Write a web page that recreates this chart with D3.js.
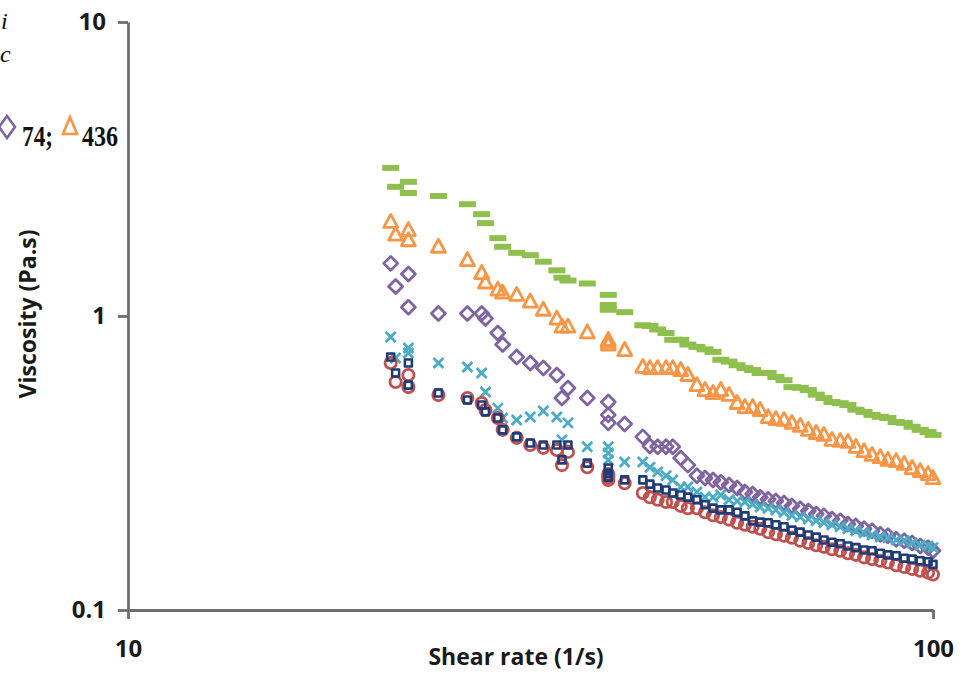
<!DOCTYPE html>
<html>
<head>
<meta charset="utf-8">
<script src="https://cdn.jsdelivr.net/npm/d3@7"></script>
<style>
  body { margin: 0; background: #fff; }
  svg { display: block; }
  .tick text, .axis-title { font-family: "Open Sans", sans-serif; font-weight: 700; fill: #1a1a1a; }
</style>
</head>
<body>
<svg id="chart" width="968" height="675"></svg>
<script>
// shear rate (1/s), shared by every sample
const shearRate = [21.2, 21.5, 22.3, 22.3, 24.3, 26.4, 27.5, 27.8, 28.8, 29.2,
  30.4, 31.6, 32.8, 34.1, 34.6, 35.2, 37.2, 39.5, 39.5, 39.5,
  41.4, 43.6, 44.5, 45.5, 46.6, 47.5, 48.6, 49.6, 50.9, 52.1,
  53.3, 54.5, 55.8, 57.1, 58.4, 59.7, 61.0, 62.4, 63.8, 65.3,
  66.8, 68.4, 70.0, 71.6, 73.2, 74.9, 76.7, 78.4, 80.2, 82.1,
  84.0, 86.0, 87.9, 90.0, 92.1, 94.2, 96.4, 98.6, 100];

// viscosity (Pa.s) per sample
const viscGreen = [3.19, 2.75, 2.86, 2.62, 2.56, 2.40, 2.22, 2.07, 1.84, 1.72,
  1.64, 1.61, 1.53, 1.43, 1.35, 1.32, 1.29, 1.18, 1.09, 1.05,
  1.03, 0.93, 0.925, 0.90, 0.875, 0.83, 0.83, 0.80, 0.785, 0.77,
  0.755, 0.71, 0.70, 0.68, 0.665, 0.655, 0.64, 0.64, 0.62, 0.605,
  0.573, 0.57, 0.56, 0.54, 0.526, 0.51, 0.505, 0.498, 0.48, 0.472,
  0.461, 0.454, 0.45, 0.436, 0.433, 0.42, 0.41, 0.403, 0.394];
const viscOrange = [2.09, 1.89, 1.96, 1.81, 1.72, 1.55, 1.40, 1.30, 1.23, 1.20,
  1.18, 1.12, 1.05, 0.98, 0.92, 0.92, 0.88, 0.83, 0.816, 0.80,
  0.766, 0.671, 0.665, 0.665, 0.665, 0.665, 0.655, 0.63, 0.582, 0.56,
  0.547, 0.56, 0.539, 0.506, 0.49, 0.49, 0.479, 0.453, 0.446, 0.443,
  0.433, 0.423, 0.41, 0.40, 0.394, 0.379, 0.376, 0.373, 0.359, 0.347,
  0.337, 0.331, 0.324, 0.321, 0.314, 0.304, 0.297, 0.29, 0.281];
const viscPurple = [1.51, 1.26, 1.39, 1.07, 1.02, 1.02, 1.02, 0.98, 0.875, 0.80,
  0.725, 0.692, 0.665, 0.63, 0.526, 0.569, 0.526, 0.51, 0.461, 0.433,
  0.429, 0.388, 0.361, 0.359, 0.359, 0.359, 0.329, 0.311, 0.286, 0.281,
  0.277, 0.272, 0.266, 0.26, 0.252, 0.248, 0.242, 0.238, 0.235, 0.231,
  0.226, 0.221, 0.217, 0.212, 0.209, 0.204, 0.201, 0.196, 0.193, 0.189,
  0.186, 0.181, 0.179, 0.174, 0.172, 0.169, 0.165, 0.163, 0.159];
const viscCyan = [0.848, 0.72, 0.778, 0.748, 0.692, 0.671, 0.64, 0.551, 0.486, 0.45,
  0.443, 0.453, 0.475, 0.453, 0.379, 0.433, 0.359, 0.359, 0.342, 0.324,
  0.319, 0.319, 0.306, 0.295, 0.286, 0.277, 0.262, 0.262, 0.252, 0.242,
  0.242, 0.246, 0.237, 0.235, 0.233, 0.229, 0.224, 0.222, 0.219, 0.215,
  0.21, 0.207, 0.204, 0.201, 0.198, 0.195, 0.192, 0.189, 0.186, 0.183,
  0.18, 0.177, 0.176, 0.173, 0.172, 0.169, 0.166, 0.165, 0.163];
const viscNavy = [0.725, 0.64, 0.692, 0.582, 0.547, 0.518, 0.498, 0.472, 0.45, 0.41,
  0.388, 0.37, 0.364, 0.364, 0.324, 0.364, 0.316, 0.304, 0.292, 0.283,
  0.277, 0.277, 0.268, 0.26, 0.256, 0.25, 0.246, 0.242, 0.237, 0.228,
  0.222, 0.219, 0.219, 0.215, 0.209, 0.201, 0.199, 0.198, 0.195, 0.192,
  0.187, 0.184, 0.18, 0.177, 0.173, 0.17, 0.168, 0.165, 0.163, 0.16,
  0.159, 0.156, 0.154, 0.153, 0.15, 0.149, 0.147, 0.146, 0.143];
const viscRed = [0.692, 0.596, 0.63, 0.573, 0.539, 0.526, 0.506, 0.479, 0.45, 0.41,
  0.385, 0.364, 0.356, 0.35, 0.311, 0.345, 0.306, 0.29, 0.283, 0.277,
  0.27, 0.25, 0.242, 0.237, 0.233, 0.233, 0.226, 0.222, 0.222, 0.215,
  0.21, 0.207, 0.203, 0.198, 0.195, 0.192, 0.189, 0.184, 0.181, 0.179,
  0.176, 0.172, 0.169, 0.166, 0.164, 0.161, 0.159, 0.156, 0.154, 0.151,
  0.149, 0.147, 0.145, 0.142, 0.14, 0.138, 0.136, 0.134, 0.132];

const xTicks = [10, 100];
const yTicks = [0.1, 1, 10];

let svg = d3.select("#chart");

let xScale = d3.scaleLog().domain([10, 100]).range([128, 933]);
let yScale = d3.scaleLog().domain([0.1, 10]).range([610, 22]);

// marker shapes (drawn around 0,0)
const shapes = {
    dash: "M-8.5,-3H8.5V3H-8.5Z",
    triangle: "M0,-7.5L7,5.5L-7,5.5Z",
    diamond: "M0,-7L7,0L0,7L-7,0Z",
    cross: "M-5,-5L5,5M5,-5L-5,5",
    square: "M-3.5,-3.5H3.5V3.5H-3.5Z",
    circle: d3.symbol(d3.symbolCircle, 100)()
};

let series = [
    { values: viscGreen, color: "#8FBF4F", shape: "dash", filled: true },
    { values: viscOrange, color: "#F79646", shape: "triangle" },
    { values: viscPurple, color: "#8064A2", shape: "diamond" },
    { values: viscCyan, color: "#4BACC6", shape: "cross" },
    { values: viscRed, color: "#C0504D", shape: "circle" },
    { values: viscNavy, color: "#1F3C7A", shape: "square" }
];

series.forEach(s => {
    svg.append("g")
        .selectAll("path")
        .data(s.values.map((v, i) => [shearRate[i], v]))
        .enter()
        .append("path")
        .attr("d", shapes[s.shape])
        .attr("transform", d => `translate(${xScale(d[0])},${yScale(d[1])})`)
        .attr("fill", s.filled ? s.color : "none")
        .attr("stroke", s.filled ? "none" : s.color)
        .attr("stroke-width", s.shape === "square" ? 2.6 : 2.8)
        .attr("stroke-linejoin", "round");
});

// Y axis
let yAxis = svg.append("g")
    .attr("transform", "translate(128,0)")
    .call(d3.axisLeft(yScale).tickValues(yTicks).tickSize(10).tickSizeOuter(0)
        .tickPadding(12).tickFormat(d => d));

// X axis
let xAxis = svg.append("g")
    .attr("transform", "translate(0,610)")
    .call(d3.axisBottom(xScale).tickValues(xTicks).tickSize(9).tickSizeOuter(0)
        .tickPadding(21).tickFormat(d => d));

[yAxis, xAxis].forEach(g => {
    g.select(".domain").attr("stroke", "#6e6e6e").attr("stroke-width", 2.8);
    g.selectAll(".tick line").attr("stroke", "#6e6e6e").attr("stroke-width", 2.8);
    g.selectAll(".tick text").style("font-size", "24px");
});

// axis titles
svg.append("text")
    .attr("class", "axis-title")
    .attr("x", 516)
    .attr("y", 665)
    .attr("text-anchor", "middle")
    .style("font-size", "23px")
    .text("Shear rate (1/s)");

svg.append("text")
    .attr("class", "axis-title")
    .attr("transform", "translate(36,314) rotate(-90)")
    .attr("text-anchor", "middle")
    .style("font-size", "23px")
    .text("Viscosity (Pa.s)");

// cropped caption remnants at top-left
let cap = svg.append("g").style("font-family", "'Liberation Serif', serif").attr("fill", "#111");
cap.append("text").attr("x", 1).attr("y", 29).style("font-size", "24px").style("font-style", "italic").text("i");
cap.append("text").attr("x", 0).attr("y", 62).style("font-size", "24px").style("font-style", "italic").text("c");
cap.append("path").attr("d", "M7,116L15,127L7,138L-1,127Z")
    .attr("fill", "none").attr("stroke", "#8064A2").attr("stroke-width", 2.6);
cap.append("text").attr("x", 22).attr("y", 146).style("font-size", "30px").style("font-weight", "700")
    .attr("textLength", 31).attr("lengthAdjust", "spacingAndGlyphs").text("74;");
cap.append("path").attr("d", "M70,117L77,134L63,134Z")
    .attr("fill", "none").attr("stroke", "#F79646").attr("stroke-width", 2.6);
cap.append("text").attr("x", 82).attr("y", 146).style("font-size", "30px").style("font-weight", "700")
    .attr("textLength", 36).attr("lengthAdjust", "spacingAndGlyphs").text("436");
</script>
</body>
</html>
